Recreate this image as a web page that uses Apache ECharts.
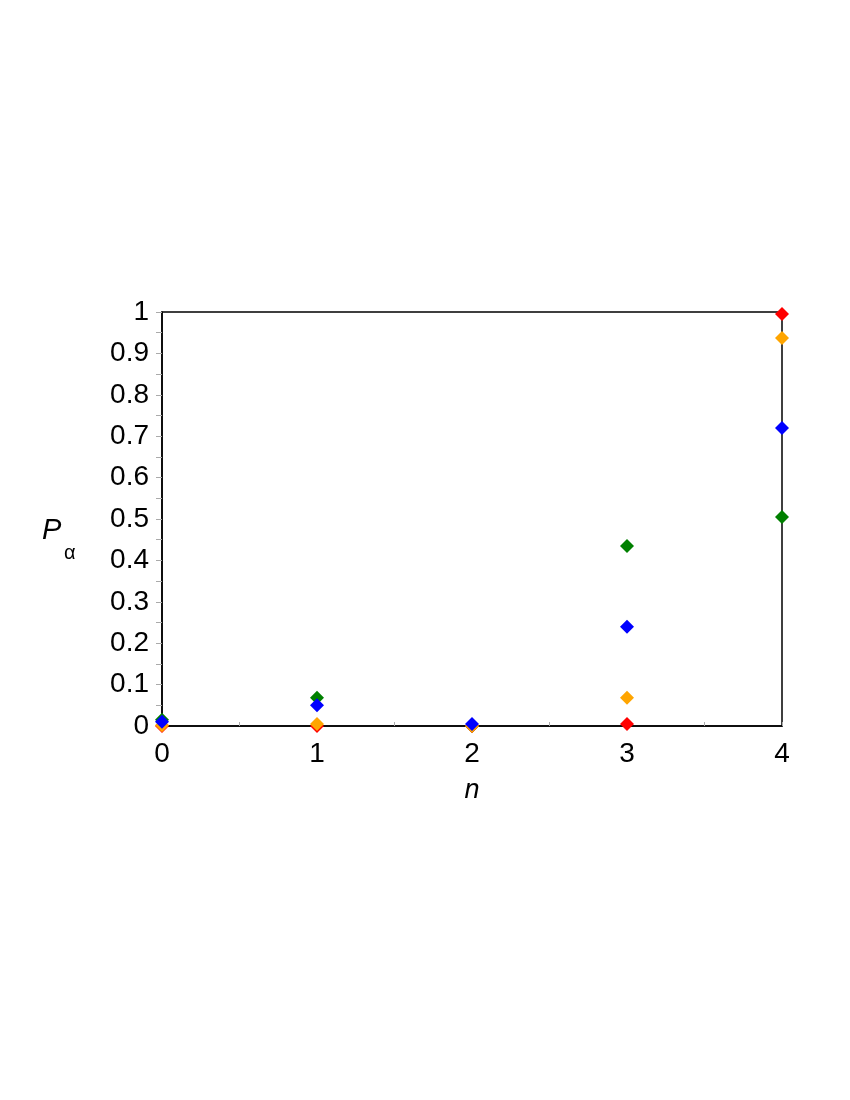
<!DOCTYPE html>
<html>
<head>
<meta charset="utf-8">
<script src="https://cdn.jsdelivr.net/npm/echarts@6/dist/echarts.min.js"></script>
<style>
  html, body { margin: 0; padding: 0; background: #fff; }
  #container { width: 850px; height: 1100px; }
</style>
</head>
<body>
<div id="container"></div>
<script>
var nValues = [0, 1, 2, 3, 4];
var yTicks = [0, 0.1, 0.2, 0.3, 0.4, 0.5, 0.6, 0.7, 0.8, 0.9, 1];

// P_alpha per n, one list per colour
var redVals    = [0.0,   0.0,   0.0,   0.005, 0.995];
var orangeVals = [0.002, 0.005, 0.0,   0.068, 0.937];
var greenVals  = [0.015, 0.068, 0.0,   0.435, 0.505];
var blueVals   = [0.01,  0.05,  0.005, 0.24,  0.72];

// drawing order: later ones sit on top
var seriesDefs = [
    ['green', '#008000', greenVals],
    ['red', '#ff0000', redVals],
    ['orange', '#ffa500', orangeVals],
    ['blue', '#0000ff', blueVals]
];

var dom = document.getElementById('container');
var myChart = echarts.init(dom, null, { renderer: 'canvas' });

function pairs(vals) {
    var obj = [];
    for (var i = 0; i < nValues.length; i++) {
        obj.push([nValues[i], vals[i]]);
    }
    return obj;
}

var font = 'Liberation Sans, Arial, sans-serif';

var option = {
    animation: false,
    backgroundColor: '#fff',
    grid: {
        left: 162, right: 68, top: 312, bottom: 374,
        show: true, borderColor: '#000', borderWidth: 1.5
    },
    xAxis: {
        type: 'value',
        min: 0, max: 4, interval: 1,
        axisLine: { show: true, lineStyle: { color: '#000', width: 1.5 } },
        axisTick: { show: true, inside: true, length: 4, lineStyle: { color: '#aaa' } },
        minorTick: { show: true, splitNumber: 2, length: 4, lineStyle: { color: '#aaa' } },
        splitLine: { show: false },
        axisLabel: { color: '#000', fontSize: 28, fontFamily: font, margin: 14 },
        name: 'n',
        nameLocation: 'middle',
        nameGap: 51,
        nameTextStyle: { color: '#000', fontSize: 27, fontStyle: 'italic', fontFamily: font }
    },
    yAxis: {
        type: 'value',
        min: 0, max: 1, interval: 0.1,
        axisLine: { show: true, lineStyle: { color: '#000', width: 1.5 } },
        axisTick: { show: true, length: 6, lineStyle: { color: '#aaa' } },
        minorTick: { show: true, splitNumber: 2, length: 6, lineStyle: { color: '#aaa' } },
        splitLine: { show: false },
        axisLabel: {
            color: '#000', fontSize: 28, fontFamily: font, margin: 13,
            formatter: function (v) {
                var t = yTicks.find(function (x) { return Math.abs(x - v) < 1e-6; });
                return t === undefined ? '' : String(t);
            }
        }
    },
    graphic: [
        {
            type: 'text', left: 42, top: 516,
            style: { text: 'P', fontSize: 29, fontStyle: 'italic', fontFamily: font, fill: '#000' }
        },
        {
            type: 'text', left: 64, top: 543,
            style: { text: 'α', fontSize: 20, fontFamily: font, fill: '#000' }
        }
    ],
    series: seriesDefs.map(function (d) {
        return {
            name: d[0],
            type: 'scatter',
            symbol: 'diamond',
            symbolSize: 14,
            itemStyle: { color: d[1], opacity: 1 },
            data: pairs(d[2]),
            clip: false
        };
    })
};

myChart.setOption(option);
</script>
</body>
</html>
